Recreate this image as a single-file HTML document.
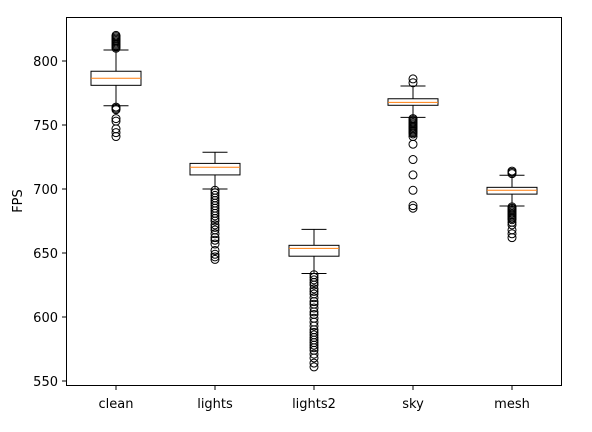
<!DOCTYPE html>
<html><head><meta charset="utf-8"><style>
html,body{margin:0;padding:0;background:#fff;}
svg{display:block;font-family:"DejaVu Sans","Liberation Sans",sans-serif;}
</style></head><body>
<svg id="chart" width="592" height="432" viewBox="0 0 592 432" xmlns="http://www.w3.org/2000/svg">
<rect width="592" height="432" fill="#fff"/>
<g id="plot"></g>
<rect x="66.5" y="17.5" width="495" height="368" fill="none" stroke="#000" stroke-width="1"/>
<text x="22" y="201" font-size="13" text-anchor="middle" transform="rotate(-90 22 201)">FPS</text>
</svg>
<script>
const categories = ["clean","lights","lights2","sky","mesh"];
const whiskerHigh = [808.6, 728.7, 668.5, 780.5, 710.7];
const q3 = [792, 720, 656, 770.5, 701.3];
const medians = [786.5, 717, 653.6, 767.7, 699];
const q1 = [781, 711, 647.5, 765.4, 696];
const whiskerLow = [765, 700, 634, 756, 686.7];
const outliersHigh = [
  [810,811,812,813,814,815,816,817,818,819,820],
  [],
  [],
  [783,786],
  [712,713,714]
];
const outliersLow = [
  [764,763,762,755,753,747,744,741],
  [699,697,695,693,691,689,687,685,683,681,679,677,675,672,670,668,665,662,660,657,652,649,647,645],
  [633,631,629,627,625,622,620,618,615,612,610,607,604,602,599,596,593,590,588,586,584,582,580,578,576,574,571,568,564,561],
  [755,754,753,752,751,750,749,748,747,746,745,744,743,741,735,723,711,699,687,685],
  [686,685,684,683,682,681,680,679,678,677,676,674,672,668,665,662]
];
const yTicks = [550,600,650,700,750,800];

const NS = "http://www.w3.org/2000/svg";
const plot = document.getElementById("plot");
const yScale = v => 381 - (v - 550) * 1.28;
const xScale = i => 116 + i * 99;
function el(tag, attrs, parent) {
  const e = document.createElementNS(NS, tag);
  for (const k in attrs) e.setAttribute(k, attrs[k]);
  (parent || plot).appendChild(e);
  return e;
}
yTicks.forEach(t => {
  const y = yScale(t);
  const tk = el("line", {x1: 62, x2: 66.5, y1: y, y2: y, stroke: "#000"});
  
  
  const tx = el("text", {x: 58, y: y + 5, "font-size": 13, "text-anchor": "end"});
  
  
  tx.textContent = t;
});
categories.forEach((c, i) => {
  const x = xScale(i);
  const g = el("g", {});
  
  
  el("line", {x1: x, x2: x, y1: yScale(whiskerHigh[i]), y2: yScale(q3[i]), stroke: "#000"}, g);
  el("line", {x1: x, x2: x, y1: yScale(q1[i]), y2: yScale(whiskerLow[i]), stroke: "#000"}, g);
  el("line", {x1: x - 12.5, x2: x + 12.5, y1: yScale(whiskerHigh[i]), y2: yScale(whiskerHigh[i]), stroke: "#000"}, g);
  el("line", {x1: x - 12.5, x2: x + 12.5, y1: yScale(whiskerLow[i]), y2: yScale(whiskerLow[i]), stroke: "#000"}, g);
  el("rect", {x: x - 25, y: yScale(q3[i]), width: 50, height: yScale(q1[i]) - yScale(q3[i]), fill: "none", stroke: "#000"}, g);
  el("line", {x1: x - 25, x2: x + 25, y1: yScale(medians[i]), y2: yScale(medians[i]), stroke: "#ff7f0e"}, g);
  outliersHigh[i].concat(outliersLow[i]).forEach(v => {
    const o = el("circle", {cx: x, cy: yScale(v), r: 4, fill: "none", stroke: "#000"}, g);
    
    
  });
  const tk = el("line", {x1: x, x2: x, y1: 385.5, y2: 390, stroke: "#000"});
  
  
  const tx = el("text", {x: x, y: 408, "font-size": 13, "text-anchor": "middle"});
  
  
  tx.textContent = c;
});
</script>
</body></html>
